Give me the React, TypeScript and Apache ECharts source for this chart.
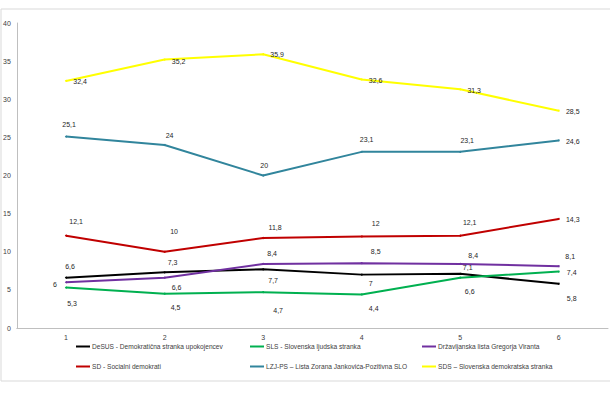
import React, { useEffect, useRef } from "react";
import * as echarts from "echarts";

const categories = ["1", "2", "3", "4", "5", "6"];
const seriesNames = [
  "DeSUS - Demokratična stranka upokojencev",
  "SLS - Slovenska ljudska stranka",
  "Državljanska lista Gregorja Viranta",
  "SD - Socialni demokrati",
  "LZJ-PS – Lista Zorana Jankovića-Pozitivna SLO",
  "SDS – Slovenska demokratska stranka",
];
const desus = [6.6, 7.3, 7.7, 7, 7.1, 5.8];
const sls = [5.3, 4.5, 4.7, 4.4, 6.6, 7.4];
const dlgv = [6, 6.6, 8.4, 8.5, 8.4, 8.1];
const sd = [12.1, 10, 11.8, 12, 12.1, 14.3];
const lzjps = [25.1, 24, 20, 23.1, 23.1, 24.6];
const sds = [32.4, 35.2, 35.9, 32.6, 31.3, 28.5];
const yTicks = { min: 0, max: 40, interval: 5 };

const colors = ["#000000", "#00B050", "#7030A0", "#C00000", "#31859C", "#FFFF00"];
// label offsets (style only) relative to each point: [dx, dy]
const labelOffsets: number[][][] = [
  [[4, -11], [8, -10], [10, 11], [9, 9], [7.5, -6.5], [13, 14.5]],
  [[6, 15.7], [11, 14], [15, 18.5], [12, 14.5], [9.5, 14], [13, 1]],
  [[-11, 2], [12, 9.5], [9, -10], [14, -11.5], [13, -8], [11.5, -9.5]],
  [[10, -14.7], [9.5, -20], [12, -11], [14, -13], [9.5, -13], [14, 1]],
  [[3, -12.3], [5, -9.7], [1, -10], [5, -12], [7, -11.5], [14, 1]],
  [[14, 1], [14, 1.5], [14, 0.5], [14, 1], [14, 1], [14, 0.6]],
];
const legendPos = [
  [76, 343], [250, 343], [422, 343],
  [76, 363], [250, 363], [422, 363],
];

const FONT = "Liberation Sans";

export default function App() {
  const ref = useRef<HTMLDivElement>(null);
  useEffect(() => {
    document.body.style.margin = "0";
    const chart = echarts.init(ref.current!, undefined, { renderer: "svg" });
    const all = [desus, sls, dlgv, sd, lzjps, sds];
    const fmt = (v: number) => String(v).replace(".", ",");
    chart.setOption({
      animation: false,
      textStyle: { fontFamily: FONT },
      graphic: [
        {
          type: "rect",
          shape: { x: 1, y: 9, width: 640, height: 372 },
          style: { fill: "none", stroke: "#d9d9d9", lineWidth: 1 },
          silent: true,
        },
      ],
      grid: { left: 16, right: 2, top: 23, bottom: 72 },
      xAxis: {
        type: "category",
        data: categories,
        boundaryGap: true,
        axisLine: { lineStyle: { color: "#bfbfbf" } },
        axisTick: { show: false },
        axisLabel: { color: "#404040", fontSize: 7, margin: 6, fontFamily: FONT },
      },
      yAxis: {
        type: "value",
        min: yTicks.min,
        max: yTicks.max,
        interval: yTicks.interval,
        axisLine: { show: true, lineStyle: { color: "#bfbfbf" } },
        axisTick: { show: false },
        splitLine: { show: false },
        axisLabel: { color: "#404040", fontSize: 7, margin: 6, fontFamily: FONT },
      },
      legend: legendPos.map((p, i) => ({
        data: [seriesNames[i]],
        left: p[0],
        top: p[1],
        padding: 0,
        icon: "rect",
        itemWidth: 14,
        itemHeight: 2,
        textStyle: { fontSize: 6.6, color: "#404040", fontFamily: FONT, padding: [0, 0, 0, -3] },
      })),
      series: all.map((vals, si) => ({
        name: seriesNames[si],
        type: "line",
        symbol: "circle",
        symbolSize: 2,
        showSymbol: true,
        lineStyle: { color: colors[si], width: 2 },
        itemStyle: { color: colors[si] },
        data: vals.map((v, pi) => ({
          value: v,
          label: {
            show: true,
            position: "inside",
            offset: labelOffsets[si][pi],
            formatter: () => fmt(v),
            color: "#262626",
            textBorderWidth: 0,
            textBorderColor: "transparent",
            fontSize: 7,
            fontFamily: FONT,
          },
        })),
        emphasis: { disabled: true },
      })),
    });
    return () => chart.dispose();
  }, []);
  return <div ref={ref} style={{ width: 610, height: 400 }} />;
}
